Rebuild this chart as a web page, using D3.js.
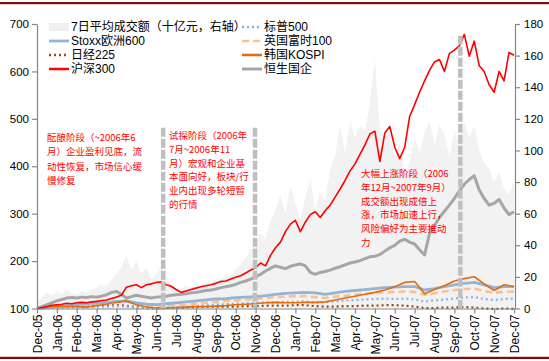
<!DOCTYPE html>
<html><head><meta charset="utf-8">
<script src="https://cdn.jsdelivr.net/npm/d3@7"></script>
<style>
html,body{margin:0;padding:0;background:#fff;}
svg{display:block;}
text{font-family:"Liberation Sans",Arial,"Noto Sans CJK SC",sans-serif;}
</style></head><body>
<svg id="c" width="549" height="361"></svg>
<script>
// ---- data (month offset from Dec-05) ----
const monthLabels = ["Dec-05","Jan-06","Feb-06","Mar-06","Apr-06","May-06","Jun-06","Jul-06","Aug-06","Sep-06","Oct-06","Nov-06","Dec-06","Jan-07","Feb-07","Mar-07","Apr-07","May-07","Jun-07","Jul-07","Aug-07","Sep-07","Oct-07","Nov-07","Dec-07"];
const leftTicks = [100,200,300,400,500,600,700];
const rightTicks = [0,20,40,60,80,100,120,140,160,180];

// weekly grid: 0, 0.25, ..., 24
const weeks = d3.range(97).map(i => i * 0.25);
const hs300 = [100,102,104,107,108,109,111,110,112,113,112,114,115,117,118,121,124,128,145,148,150,144,150,152,155,156,150,147,140,134,137,140,143,146,148,150,153,157,158,162,166,169,175,181,186,196,190,212,228,240,262,278,286,262,282,298,304,292,306,318,335,352,370,390,405,425,445,468,474,410,470,484,440,416,440,505,530,556,580,602,620,625,600,638,645,654,678,632,664,612,600,572,556,600,580,640,634];
const hscei = [100,104,108,112,116,119,122,123,122,124,123,125,124,126,129,134,136,130,122,125,128,126,124,122,124,125,126,128,129,130,131,133,134,136,138,139,141,144,146,148,151,155,158,162,167,172,179,185,190,187,184,189,192,194,190,176,172,176,178,181,185,188,192,196,198,201,205,209,210,214,221,228,233,242,246,240,236,224,213,258,275,292,305,318,332,348,362,372,380,350,332,318,322,330,312,298,304];
const turnover = [4,7,10,8,11,9,12,10,9,11,10,12,13,15,14,18,22,26,34,24,30,22,26,18,22,27,20,15,13,12,14,13,15,14,17,16,19,18,22,20,25,28,32,38,42,48,44,56,62,72,60,78,66,56,70,82,62,74,68,88,96,116,98,118,108,116,112,130,158,112,108,112,96,104,84,92,108,98,112,118,104,116,110,96,112,104,118,108,116,100,92,88,80,86,76,72,80];

// half-month grid: 0, 0.5, ..., 24
const halfMonths = d3.range(49).map(i => i * 0.5);
const stoxx600 = [100,102,104,106,108,110,112,113,115,116,112,109,108,110,112,114,116,118,120,121,123,124,125,127,130,132,133,134,133,130,133,136,138,140,142,144,145,146,146,139,142,146,150,153,155,150,144,146,146];
const ftse100 = [100,101,103,104,106,108,110,112,114,115,109,106,105,106,107,108,110,112,114,116,117,119,120,122,124,125,126,126,124,122,125,127,129,131,133,134,135,136,135,129,132,136,139,141,142,137,133,135,136];
const sp500 = [100,101,102,102,103,103,104,104,105,104,102,101,101,102,103,104,105,107,108,109,110,111,112,113,113,114,114,115,112,113,115,117,118,119,120,121,120,121,119,115,117,119,121,123,124,120,118,120,121];
const nikkei225 = [100,101,102,103,104,104,105,106,107,106,103,101,100,101,102,102,103,104,104,104,104,105,105,106,106,106,107,107,105,104,104,105,105,106,106,107,107,106,104,101,101,102,102,103,102,100,99,100,99];
const kospi = [100,103,105,104,104,103,106,109,113,116,108,103,101,101,102,103,104,104,105,106,108,109,110,112,113,112,112,113,113,114,118,122,126,130,134,139,146,155,157,131,140,148,158,163,167,152,138,150,146];

// phase boundaries (month offset) and their top (left-axis value)
const phaseX = [6.35, 10.97, 21.3];
const phaseTop = [481, 481, 675];

const legendLeft = ["7日平均成交额（十亿元，右轴）","Stoxx欧洲600","日经225","沪深300"];
const legendRight = ["标普500","英国富时100","韩国KOSPI","恒生国企"];

const note1 = ["酝酿阶段（~2006年6","月）企业盈利见底，流","动性恢复，市场信心缓","慢修复"];
const note2 = ["试探阶段（2006年","7月~2006年11","月）宏观和企业基","本面向好，板块/行","业内出现多轮短暂","的行情"];
const note3 = ["大幅上涨阶段（2006","年12月~2007年9月）","成交额出现成倍上","涨，市场加速上行，","风险偏好为主要推动","力"];

// ---- drawing ----
const svg = d3.select("#c");
const x = d3.scaleLinear().domain([0,24]).range([37,514]);
const yL = d3.scaleLinear().domain([100,700]).range([308.5,24]);
const yR = d3.scaleLinear().domain([0,180]).range([308.5,24]);
const axisCol = "#868686";

// frame lines
svg.append("rect").attr("x",0).attr("y",2).attr("width",549).attr("height",2.2).attr("fill","#7b0c0c");
svg.append("rect").attr("x",0).attr("y",356.8).attr("width",549).attr("height",2.2).attr("fill","#7b0c0c");

// area
svg.append("path").datum(weeks.map((m,i)=>[m,turnover[i]]))
  .attr("fill","#f2f2f2")
  .attr("d", d3.area().x(d=>x(d[0])).y0(yR(0)).y1(d=>yR(d[1])));

const styles = {
  sp500:   {col:"#8db3e2", w:2.2, dash:"2,3"},
  ftse:    {col:"#fac090", w:2.6, dash:"7,4"},
  nikkei:  {col:"#984807", w:2.2, dash:"2,3"},
  stoxx:   {col:"#95b3d7", w:2.8, dash:null},
  kospi:   {col:"#e46c0a", w:1.6, dash:null},
  hscei:   {col:"#a6a6a6", w:3.0, dash:null},
  hs300:   {col:"#ff0000", w:1.6, dash:null}
};
function drawLine(xs, vals, st){
  svg.append("path").datum(xs.map((m,i)=>[m,vals[i]]))
    .attr("fill","none").attr("stroke",st.col).attr("stroke-width",st.w)
    .attr("stroke-dasharray",st.dash).attr("stroke-linejoin","round")
    .attr("d", d3.line().x(d=>x(d[0])).y(d=>yL(d[1])));
}
drawLine(halfMonths, nikkei225, styles.nikkei);
drawLine(halfMonths, sp500, styles.sp500);
drawLine(halfMonths, ftse100, styles.ftse);
drawLine(halfMonths, stoxx600, styles.stoxx);
drawLine(halfMonths, kospi, styles.kospi);
drawLine(weeks, hscei, styles.hscei);
drawLine(weeks, hs300, styles.hs300);

// phase dashed lines
phaseX.forEach((m,i)=>{
  svg.append("line").attr("x1",x(m)).attr("x2",x(m)).attr("y1",yL(phaseTop[i])).attr("y2",yL(100))
    .attr("stroke","#bfbfbf").attr("stroke-width",4.5).attr("stroke-dasharray","9,2");
});

// axes
const gL = svg.append("g").attr("transform","translate(37,0)")
  .call(d3.axisLeft(yL).tickValues(leftTicks).tickSize(5).tickSizeOuter(0).tickPadding(3));
const gR = svg.append("g").attr("transform","translate(515,0)")
  .call(d3.axisRight(yR).tickValues(rightTicks).tickSize(5).tickSizeOuter(0).tickPadding(4));
const gX = svg.append("g").attr("transform","translate(0,308.5)")
  .call(d3.axisBottom(x).tickValues(d3.range(25)).tickFormat(i=>monthLabels[i]).tickSize(5).tickSizeOuter(0));
[gL,gR,gX].forEach(g=>{
  g.selectAll("path,line").attr("stroke",axisCol).attr("stroke-width",1.2);
  g.selectAll("text").attr("fill","#000").style("font-size","11.5px").style("font-family",'"Liberation Sans",Arial,sans-serif');
});
gX.selectAll("text").attr("transform","rotate(-90)").attr("text-anchor","end")
  .attr("x",-6).attr("y",0).attr("dy","0.35em").style("font-size","12px");

// legend
function swatch(xp, yp, kind){
  if(kind==="area"){
    svg.append("rect").attr("x",xp).attr("y",yp-4).attr("width",20).attr("height",8).attr("fill","#efefef");
  } else {
    const st = styles[kind];
    svg.append("line").attr("x1",xp).attr("x2",xp+20).attr("y1",yp).attr("y2",yp)
      .attr("stroke",st.col).attr("stroke-width",Math.max(2.5,st.w)).attr("stroke-dasharray",st.dash);
  }
}
const rowsY = [27,41,55,69];
const leftKinds = ["area","stoxx","nikkei","hs300"];
const rightKinds = ["sp500","ftse","kospi","hscei"];
legendLeft.forEach((t,i)=>{
  swatch(49, rowsY[i], leftKinds[i]);
  svg.append("text").attr("x",71).attr("y",rowsY[i]).attr("dy","0.36em").style("font-size","12px").attr("fill","#000").text(t);
});
legendRight.forEach((t,i)=>{
  swatch(242, rowsY[i], rightKinds[i]);
  svg.append("text").attr("x",264).attr("y",rowsY[i]).attr("dy","0.36em").style("font-size","12px").attr("fill","#000").text(t);
});

// notes
function note(lines, xp, y0, lh){
  const t = svg.append("text").attr("fill","#ff0000").style("font-size","9.5px")
    .style("font-family",'"Noto Sans CJK SC","Liberation Sans",sans-serif');
  lines.forEach((l,i)=>{
    t.append("tspan").attr("x",xp).attr("y",y0+i*lh).text(l);
  });
}
note(note1, 47, 141, 14.3);
note(note2, 169, 139, 13.8);
note(note3, 361, 177, 13.8);
</script>
</body></html>
